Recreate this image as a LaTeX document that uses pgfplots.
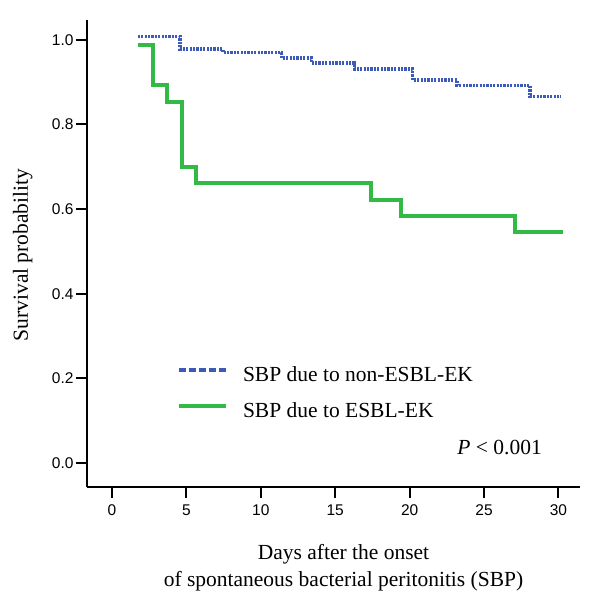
\documentclass[border=0pt]{standalone}
\usepackage{fontspec}
\setmainfont{Liberation Serif}
\setsansfont{Liberation Sans}
\usepackage{pgfplots}
\pgfplotsset{compat=1.18}
\definecolor{kmblue}{RGB}{60,90,185}
\definecolor{kmgreen}{RGB}{50,185,70}
\begin{document}
\begin{tikzpicture}
\begin{axis}[
  scale only axis, width=493pt, height=467pt,
  xmin=-1.68, xmax=31.45, ymin=-0.057, ymax=1.047,
  axis x line=bottom, axis y line=left,
  axis line style={-, line width=2pt, black},
  xtick={0,5,...,30}, ytick={0,0.2,0.4,0.6,0.8,1.0},
  tick align=outside, major tick length=11pt,
  every tick/.style={black, line width=2pt},
  y tick label style={/pgf/number format/fixed, /pgf/number format/fixed zerofill, /pgf/number format/precision=1, xshift=1pt},
  ticklabel style={font=\fontsize{15.5}{17}\sffamily},
  /pgf/number format/assume math mode=true,
  x tick label style={yshift=-3pt},
  clip=false,
  xlabel={Days after the onset\\of spontaneous bacterial peritonitis (SBP)},
  xlabel style={at={(axis description cs:0.5203,-0.122)}, anchor=north, inner sep=0pt, align=center, font=\fontsize{21.5}{27}\selectfont},
  ylabel={Survival probability},
  ylabel style={at={(axis description cs:-0.1197,0.4968)}, anchor=base, inner sep=0pt, font=\fontsize{21.5}{26}\selectfont},
  legend cell align=left,
  legend style={at={(0.1826,0.2591)}, anchor=north west, draw=none, fill=none, inner sep=0pt, outer sep=0pt, row sep=16pt, font=\fontsize{21.5}{26}\selectfont, nodes={inner sep=0pt, text height=15pt, text depth=5pt}, /tikz/every odd column/.style={column sep=15pt}},
]
\addplot[const plot mark left, kmblue, line width=3.5pt, dash pattern=on 2.2pt off 1.2pt,
  legend image code/.code={\draw[kmblue, line width=3.5pt, dash pattern=on 6.7pt off 3.3pt] (0pt,6pt) -- (47pt,6pt);}]
  coordinates {(1.73,1.008) (4.57,0.978) (7.46,0.970) (11.4,0.957) (13.4,0.945) (16.3,0.931) (20.2,0.905) (23.2,0.892) (28.1,0.866) (30.2,0.866)};
\addlegendentry{SBP due to non-ESBL-EK}
\addplot[const plot mark left, kmgreen, line width=4pt,
  legend image code/.code={\draw[kmgreen, line width=4pt] (0pt,6pt) -- (47pt,6pt);}]
  coordinates {(1.75,0.989) (2.73,0.893) (3.7,0.854) (4.7,0.700) (5.65,0.661) (17.4,0.622) (19.4,0.584) (27.1,0.546) (30.3,0.546)};
\addlegendentry{SBP due to ESBL-EK}
\node[anchor=base east, font=\fontsize{21.5}{26}\selectfont, inner sep=0pt] at (axis cs:28.9,0.019) {\textit{P} < 0.001};
\end{axis}
\pgfresetboundingbox
\path[use as bounding box] ([shift={(-87pt,20pt)}]current axis.north west) rectangle ([shift={(20pt,-120pt)}]current axis.south east);
\end{tikzpicture}
\end{document}
